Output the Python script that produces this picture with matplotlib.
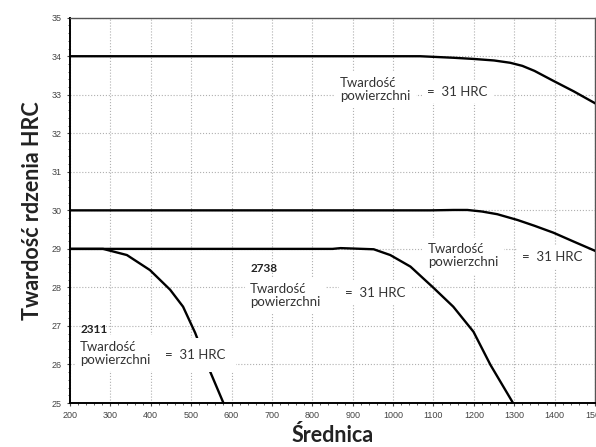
import matplotlib
matplotlib.use("Agg")
import matplotlib.pyplot as plt
from matplotlib.ticker import MultipleLocator

# core hardness vs diameter, surface hardness = 31 HRC
d_top = [200, 1000, 1067, 1150, 1199, 1250, 1290, 1320, 1350, 1397, 1447, 1500]
h_top = [34.0, 34.0, 34.0, 33.96, 33.93, 33.89, 33.83, 33.75, 33.62, 33.36, 33.09, 32.78]

d_mid = [200, 1092, 1150, 1184, 1220, 1258, 1308, 1350, 1397, 1447, 1500]
h_mid = [30.0, 30.0, 30.01, 30.01, 29.97, 29.9, 29.75, 29.6, 29.42, 29.19, 28.95]

d_2738 = [200, 850, 870, 952, 993, 1043, 1100, 1149, 1199, 1241, 1297]
h_2738 = [29.0, 29.0, 29.02, 28.99, 28.84, 28.54, 27.99, 27.5, 26.85, 25.99, 25.0]

d_2311 = [200, 282, 341, 398, 448, 480, 510, 542, 580]
h_2311 = [29.0, 29.0, 28.84, 28.45, 27.94, 27.5, 26.82, 25.94, 25.0]

label_tw = "Twardość\npowierzchni"
label_eq = "=  31 HRC"

plt.rcParams['font.family'] = ['Lato', 'DejaVu Sans']
fig = plt.figure(figsize=(5.96, 4.47), dpi=100)
ax = fig.add_axes([0.1174, 0.0984, 0.881, 0.862])

for d, h in [(d_top, h_top), (d_mid, h_mid), (d_2738, h_2738), (d_2311, h_2311)]:
	ax.plot(d, h, color="black", lw=1.7, zorder=4)

ax.set_xlim(200, 1500)
ax.set_ylim(25, 35)
ax.xaxis.set_major_locator(MultipleLocator(100))
ax.yaxis.set_major_locator(MultipleLocator(1))
ax.xaxis.set_minor_locator(MultipleLocator(20))
ax.yaxis.set_minor_locator(MultipleLocator(0.2))
ax.grid(True, which="major", ls=":", color="#b0b0b0", lw=0.8, zorder=0)
ax.tick_params(which="major", labelsize=6.5, length=2, colors="#444444", pad=4)
ax.tick_params(which="minor", length=1.5, colors="#444444")
for lab in ax.get_xticklabels() + ax.get_yticklabels():
	lab.set_family(["Liberation Sans", "DejaVu Sans"])

for s in ["top", "right"]:
	ax.spines[s].set_color("#555555")
	ax.spines[s].set_linewidth(1.0)
for s in ["left", "bottom"]:
	ax.spines[s].set_color("black")
	ax.spines[s].set_linewidth(1.4)

txt = dict(fontsize=9.5, color="#333333", va="center", ha="left", linespacing=1.1, zorder=3)
box = dict(facecolor="white", edgecolor="none", pad=4)

ax.text(869, 33.13, label_tw, bbox=box, **txt)
ax.text(1085, 33.08, label_eq, bbox=box, **txt)

ax.text(1087, 28.82, label_tw, bbox=box, **txt)
ax.text(1320, 28.79, label_eq, bbox=box, **txt)

ax.text(646, 28.5, "2738", fontsize=8.5, fontweight="bold", color="#222222", va="center", ha="left")
ax.text(646, 27.8, label_tw, bbox=box, **txt)
ax.text(881, 27.86, label_eq, bbox=box, **txt)

ax.text(225, 26.9, "2311", fontsize=8.5, fontweight="bold", color="#222222", va="center", ha="left")
ax.text(225, 26.29, label_tw, bbox=box, **txt)
# this label sits over the 2311 curve and hides part of it
ax.text(435, 26.25, label_eq, bbox=dict(facecolor="white", edgecolor="none", pad=8),
	**dict(txt, zorder=5))

ax.set_xlabel("Średnica", fontsize=15.5, fontweight="bold", color="#222222", labelpad=3)
ax.set_ylabel("Twardość rdzenia HRC", fontsize=15.5, fontweight="bold", color="#222222", labelpad=6)

fig.savefig("out.png", dpi=100)
